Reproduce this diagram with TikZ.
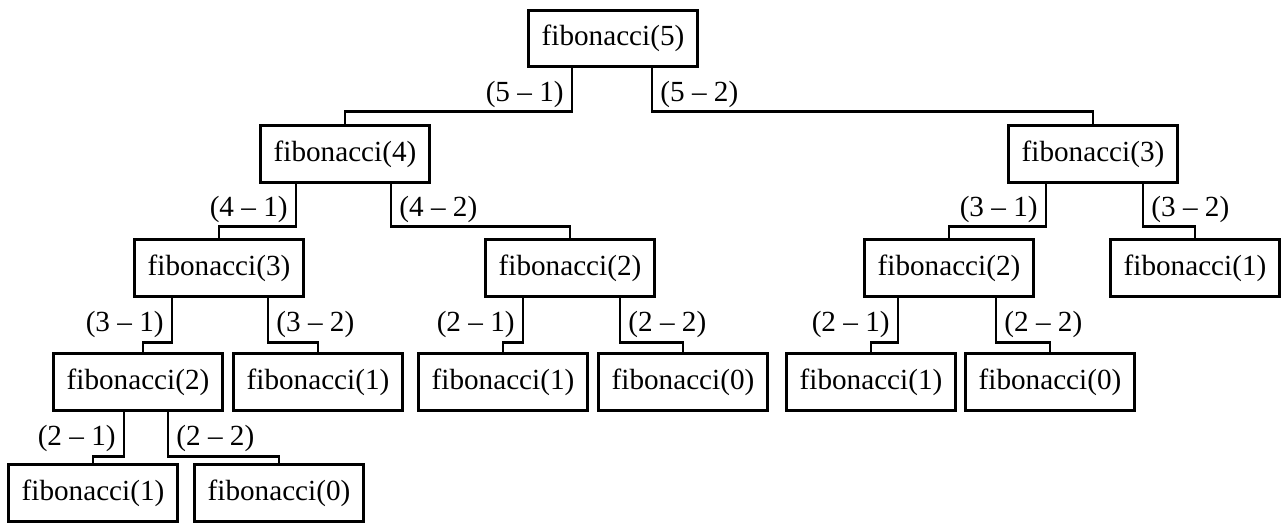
\documentclass[tikz,border=0pt]{standalone}
\usepackage{fontspec}
\setmainfont{Liberation Serif}
\tikzset{
  fibbox/.style={draw, line width=1.4pt, minimum width=84.6pt, minimum height=28.2pt, inner sep=0pt, font=\fontsize{14.6}{17}\selectfont},
  calllbl/.style={inner xsep=3.5pt, inner ysep=0pt, font=\fontsize{14.6}{17}\selectfont}
}

\begin{document}
\begin{tikzpicture}[x=0.5pt, y=-0.5pt, line width=1.4pt]
			%%%%% START %%%%%
			\useasboundingbox (0,0) rectangle (1282,524);
			
			\node[fibbox] (f5) at (613, 38.5) {fibonacci(5)};
			
			\node[fibbox] (f4) at (345, 154) {fibonacci(4)};
			\node[fibbox] (f3b) at (1093, 154) {fibonacci(3)};
			
			\node[fibbox] (f3a) at (219, 268) {fibonacci(3)};
			\node[fibbox] (f2a) at (570, 268) {fibonacci(2)};
			\node[fibbox] (f2b) at (949, 268) {fibonacci(2)};
			\node[fibbox] (f1a) at (1195, 268) {fibonacci(1)};
			
			\node[fibbox] (f2c) at (138, 382) {fibonacci(2)};
			\node[fibbox] (f1b) at (318, 382) {fibonacci(1)};
			\node[fibbox] (f1c) at (503, 382) {fibonacci(1)};
			\node[fibbox] (f0a) at (683, 382) {fibonacci(0)};
			\node[fibbox] (f1d) at (871, 382) {fibonacci(1)};
			\node[fibbox] (f0b) at (1050, 382) {fibonacci(0)};
			
			\node[fibbox] (f1e) at (93, 493) {fibonacci(1)};
			\node[fibbox] (f0c) at (279, 493) {fibonacci(0)};
			
			\draw ([xshift=-20.5pt]f5.south) |- ([yshift=6.5pt]f4.north) node[pos=0.3, left, calllbl] {(5 – 1)} -- (f4.north);
			\draw ([xshift=19.5pt]f5.south) |- ([yshift=6.5pt]f3b.north) node[pos=0.3, right, calllbl] {(5 – 2)} -- (f3b.north);
			
			\draw ([xshift=-24.5pt]f4.south) |- ([yshift=6pt]f3a.north) node[pos=0.3, left, calllbl] {(4 – 1)} -- (f3a.north);
			\draw ([xshift=23pt]f4.south) |- ([yshift=6pt]f2a.north) node[pos=0.3, right, calllbl] {(4 – 2)} -- (f2a.north);
			\draw ([xshift=-23.5pt]f3b.south) |- ([yshift=6pt]f2b.north) node[pos=0.3, left, calllbl] {(3 – 1)} -- (f2b.north);
			\draw ([xshift=25pt]f3b.south) |- ([yshift=6pt]f1a.north) node[pos=0.3, right, calllbl] {(3 – 2)} -- (f1a.north);
			
			\draw ([xshift=-23.5pt]f3a.south) |- ([xshift=2.5pt, yshift=5pt]f2c.north) node[pos=0.3, left, calllbl] {(3 – 1)} -- ([xshift=2.5pt]f2c.north);
			\draw ([xshift=24.5pt]f3a.south) |- ([yshift=5pt]f1b.north) node[pos=0.3, right, calllbl] {(3 – 2)} -- (f1b.north);
			\draw ([xshift=-23.5pt]f2a.south) |- ([yshift=5pt]f1c.north) node[pos=0.3, left, calllbl] {(2 – 1)} -- (f1c.north);
			\draw ([xshift=25pt]f2a.south) |- ([yshift=5pt]f0a.north) node[pos=0.3, right, calllbl] {(2 – 2)} -- (f0a.north);
			\draw ([xshift=-25.5pt]f2b.south) |- ([yshift=5pt]f1d.north) node[pos=0.3, left, calllbl] {(2 – 1)} -- (f1d.north);
			\draw ([xshift=23.5pt]f2b.south) |- ([yshift=5pt]f0b.north) node[pos=0.3, right, calllbl] {(2 – 2)} -- (f0b.north);
			
			\draw ([xshift=-7pt]f2c.south) |- ([yshift=3.5pt]f1e.north) node[pos=0.3, left, calllbl] {(2 – 1)} -- (f1e.north);
			\draw ([xshift=15pt]f2c.south) |- ([yshift=3.5pt]f0c.north) node[pos=0.3, right, calllbl] {(2 – 2)} -- (f0c.north);
			
			%%%%% END %%%%%
\end{tikzpicture}
\end{document}
